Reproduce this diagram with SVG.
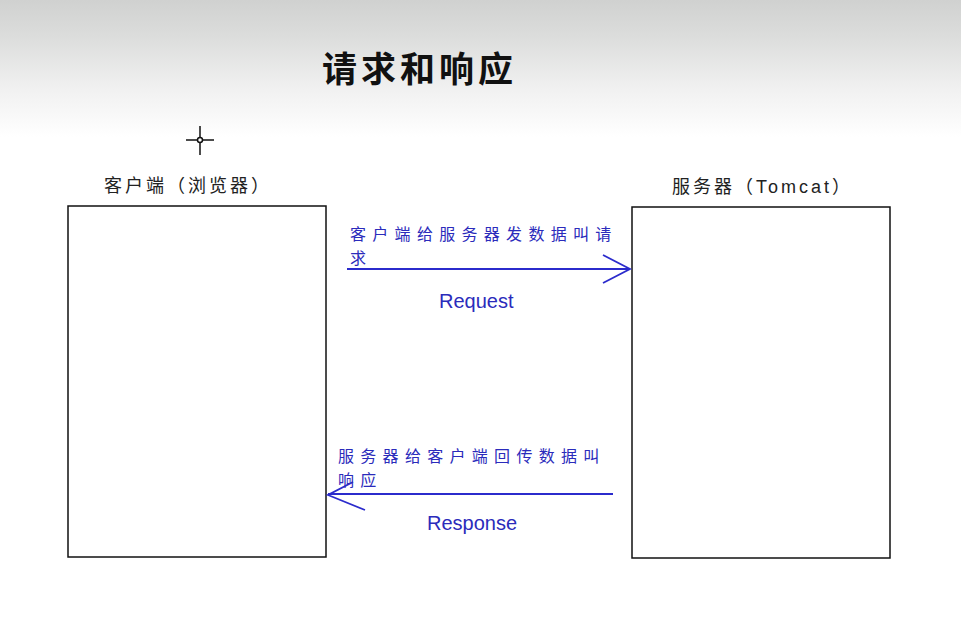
<svg xmlns="http://www.w3.org/2000/svg" width="961" height="622" viewBox="0 0 961 622">
  <defs>
    <linearGradient id="bg" x1="0" y1="0" x2="0" y2="622" gradientUnits="userSpaceOnUse">
      <stop offset="0" stop-color="#d0d1d0"/>
      <stop offset="0.06" stop-color="#dcdddc"/>
      <stop offset="0.14" stop-color="#f0f0f0"/>
      <stop offset="0.22" stop-color="#ffffff"/>
      <stop offset="1" stop-color="#ffffff"/>
    </linearGradient>
    <style>
      .box { fill: #ffffff; stroke: #111111; stroke-width: 1.5; }
      .title { font-family: "Noto Sans CJK SC", sans-serif; font-size: 35px; font-weight: 700; fill: #111111; letter-spacing: 4px; }
      .label { font-family: "Liberation Sans", "Noto Sans CJK SC", sans-serif; font-size: 18px; fill: #222222; letter-spacing: 3px; }
      .note { font-family: "Noto Sans CJK SC", sans-serif; font-size: 16px; fill: #2b2bbb; letter-spacing: 6.3px; }
      .tag { font-family: "Liberation Sans", sans-serif; font-size: 20px; fill: #2b2bbb; }
      .wire { fill: none; stroke: #2b2bcc; stroke-width: 1.8; }
    </style>
  </defs>

  <rect width="961" height="622" fill="url(#bg)"/>

  <text class="title" x="322" y="82">请求和响应</text>

  <!-- pointer cross -->
  <g stroke="#111111" stroke-width="1.5" fill="none">
    <line x1="186" y1="140" x2="214" y2="140"/>
    <line x1="200" y1="126" x2="200" y2="155"/>
    <circle cx="200" cy="140" r="2.5" fill="#ffffff"/>
  </g>

  <g id="client">
    <rect class="box" x="68" y="206" width="258" height="351"/>
    <text class="label" x="104" y="192">客户端（浏览器）</text>
  </g>

  <g id="server">
    <rect class="box" x="632" y="207" width="258" height="351"/>
    <text class="label" x="672" y="193">服务器（Tomcat）</text>
  </g>

  <g id="connectors">
    <g id="request">
      <line class="wire" x1="347" y1="269" x2="630" y2="269"/>
      <polyline class="wire" points="603,255 630,269 603,283"/>
      <text class="note" x="350" y="239.5">客户端给服务器发数据叫请</text>
      <text class="note" x="350" y="263.5">求</text>
      <text class="tag" x="439" y="308">Request</text>
    </g>
    <g id="response">
      <line class="wire" x1="328" y1="494" x2="613" y2="494"/>
      <polyline class="wire" points="353,482 328,495 365,510"/>
      <text class="note" x="338" y="461.5">服务器给客户端回传数据叫</text>
      <text class="note" x="338" y="485.5">响应</text>
      <text class="tag" x="427" y="530">Response</text>
    </g>
  </g>
</svg>
